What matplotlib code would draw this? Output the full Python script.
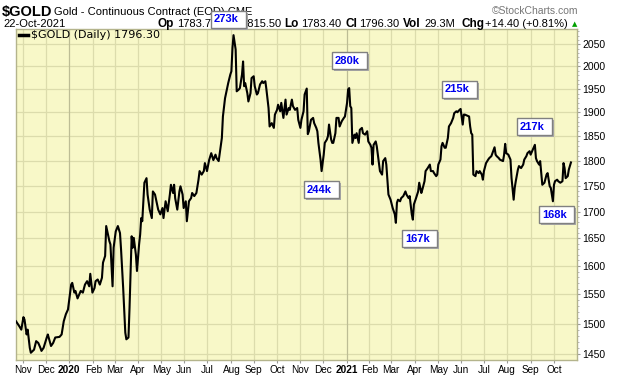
import numpy as np
import pandas as pd
import matplotlib
matplotlib.use("Agg")
import matplotlib.pyplot as plt
from matplotlib.patches import Rectangle
from matplotlib.lines import Line2D
from matplotlib.ticker import FixedLocator, FuncFormatter, NullFormatter

plt.rcParams['font.family'] = ['Liberation Sans', 'DejaVu Sans']

# trading session number (0 = 23-Oct-2019) and the close
session = [0, 3, 5, 7, 8, 10, 11, 13, 14, 17, 19, 21, 23, 24, 26, 29, 30, 33, 35, 37,
           41, 43, 45, 47, 49, 52, 53, 55, 56, 58, 61, 63, 65, 67, 69, 70, 72, 74, 75, 77,
           79, 81, 82, 84, 85, 88, 89, 91, 92, 94, 96, 98, 99, 101, 102, 103, 104, 106, 107, 109,
           110, 111, 113, 114, 116, 117, 118, 119, 121, 123, 124, 126, 128, 129, 131, 133, 134, 136, 138, 139,
           141, 143, 145, 146, 148, 149, 150, 152, 154, 155, 157, 158, 160, 161, 163, 165, 166, 168, 170, 172,
           173, 175, 177, 178, 180, 182, 184, 186, 188, 189, 191, 192, 194, 195, 197, 199, 200, 202, 203, 204,
           205, 207, 208, 210, 211, 213, 214, 215, 216, 218, 219, 221, 222, 224, 225, 227, 228, 230, 232, 233,
           235, 236, 238, 239, 241, 243, 244, 246, 247, 249, 250, 252, 254, 255, 257, 258, 260, 261, 263, 265,
           266, 268, 269, 271, 272, 274, 275, 276, 278, 280, 281, 283, 284, 285, 287, 288, 290, 291, 293, 294,
           295, 297, 298, 299, 301, 302, 304, 305, 307, 309, 310, 312, 313, 314, 315, 316, 317, 319, 320, 321,
           323, 324, 326, 327, 329, 331, 332, 334, 335, 336, 337, 339, 340, 341, 343, 345, 346, 348, 349, 351,
           353, 355, 357, 358, 359, 360, 362, 363, 365, 367, 368, 370, 371, 373, 374, 375, 377, 379, 380, 382,
           383, 385, 386, 388, 390, 391, 393, 394, 396, 397, 398, 400, 401, 402, 404, 405, 407, 408, 410, 412,
           413, 415, 416, 418, 419, 421, 422, 423, 425, 427, 428, 429, 430, 431, 433, 434, 436, 437, 439, 440,
           441, 443, 445, 446, 448, 449, 451, 452, 453, 455, 456, 459, 460, 461, 462, 464, 466, 467, 469, 470,
           471, 473, 474, 476, 478, 479, 481, 482, 484, 485, 487, 489, 490, 491, 493, 494, 495, 496, 498, 500,
           501, 503, 504, 506, 507, 508, 510, 511, 513, 515, 516, 517, 518, 520, 521, 523]
close = [1504, 1496, 1490, 1511, 1507, 1482, 1490, 1460, 1452, 1457, 1471, 1468, 1460, 1455, 1460, 1477, 1482, 1463, 1468, 1477,
         1478, 1482, 1504, 1516, 1524, 1567, 1570, 1553, 1556, 1543, 1556, 1553, 1567, 1573, 1564, 1586, 1553, 1561, 1573, 1576,
         1567, 1579, 1606, 1618, 1673, 1645, 1639, 1564, 1633, 1663, 1673, 1660, 1630, 1561, 1521, 1485, 1474, 1477, 1527, 1654,
         1633, 1651, 1620, 1591, 1639, 1657, 1688, 1682, 1756, 1765, 1733, 1704, 1688, 1739, 1733, 1714, 1704, 1695, 1707, 1688,
         1720, 1701, 1733, 1752, 1736, 1752, 1726, 1704, 1739, 1749, 1733, 1707, 1720, 1682, 1720, 1726, 1736, 1730, 1736, 1762,
         1779, 1772, 1779, 1795, 1779, 1801, 1815, 1801, 1812, 1805, 1799, 1815, 1846, 1891, 1930, 1952, 1963, 1982, 1989, 2041,
         2071, 2038, 1945, 1949, 1952, 1982, 2011, 1956, 1963, 1941, 1923, 1941, 1974, 1978, 1956, 1938, 1941, 1960, 1967, 1963,
         1967, 1949, 1909, 1870, 1877, 1867, 1895, 1905, 1916, 1902, 1920, 1888, 1927, 1895, 1909, 1905, 1927, 1913, 1905, 1909,
         1884, 1867, 1884, 1902, 1938, 1951, 1854, 1860, 1884, 1888, 1877, 1867, 1860, 1836, 1802, 1779, 1812, 1836, 1843, 1850,
         1874, 1843, 1836, 1836, 1856, 1888, 1888, 1870, 1881, 1888, 1891, 1920, 1949, 1952, 1913, 1909, 1836, 1853, 1846, 1856,
         1836, 1863, 1867, 1856, 1853, 1860, 1839, 1832, 1826, 1792, 1832, 1839, 1829, 1812, 1779, 1772, 1799, 1805, 1792, 1733,
         1723, 1707, 1695, 1679, 1717, 1723, 1720, 1726, 1730, 1739, 1733, 1726, 1730, 1695, 1685, 1714, 1726, 1739, 1756, 1736,
         1743, 1759, 1779, 1785, 1792, 1779, 1779, 1775, 1769, 1772, 1792, 1802, 1829, 1836, 1826, 1826, 1846, 1870, 1877, 1888,
         1898, 1902, 1900, 1905, 1907, 1874, 1895, 1895, 1893, 1891, 1870, 1856, 1853, 1772, 1769, 1779, 1775, 1779, 1772, 1762,
         1779, 1795, 1802, 1805, 1809, 1815, 1827, 1812, 1809, 1805, 1802, 1799, 1812, 1834, 1815, 1812, 1802, 1765, 1723, 1746,
         1759, 1782, 1789, 1785, 1792, 1802, 1809, 1815, 1819, 1812, 1822, 1832, 1805, 1799, 1792, 1799, 1775, 1752, 1756, 1772,
         1775, 1749, 1746, 1720, 1752, 1759, 1762, 1759, 1756, 1759, 1795, 1785, 1765, 1769, 1782, 1796.3]

price_ticks = [1450, 1500, 1550, 1600, 1650, 1700, 1750, 1800, 1850, 1900, 1950, 2000, 2050]
vol_labels = ['273k', '280k', '244k', '167k', '215k', '217k', '168k']
# top-left corner of each volume box, in pixels of the 620x376 image
vol_boxes = [(211, 11), (332, 52), (304, 181), (402, 230), (442, 81), (517, 118), (539, 206)]

W, H = 620, 376
BG = '#F8F8C8'
GRID = '#DCDCAC'
YEAR_GRID = '#BDBD95'
EDGE = '#B4B48C'


def fx(x):
    return x / W


def fy(y):
    return 1 - y / H


fig = plt.figure(figsize=(6.2, 3.76), dpi=100)
fig.patch.set_facecolor('white')

ax = fig.add_axes([fx(16), fy(360), (577 - 16) / W, (360 - 29) / H])
ax.set_facecolor(BG)

# trading calendar for month ticks
days = pd.bdate_range('2019-10-23', '2021-10-22')
pos = pd.Series(np.arange(len(days)), index=days)
firsts = pos.groupby(days.to_period('M')).first().iloc[1:]
month_pos = firsts.values
month_lbl = [str(p.year) if p.month == 1 else p.strftime('%b') for p in firsts.index]

for p, lbl in zip(month_pos, month_lbl):
    ax.axvline(p, color=YEAR_GRID if lbl.isdigit() else GRID, lw=0.9, zorder=1)

ax.plot(session, close, color='black', lw=1.5, zorder=3)

ax.set_yscale('log')
ax.set_ylim(1440.3, 2085.3)
ax.set_xlim(0, 528.7)
ax.yaxis.set_major_locator(FixedLocator(price_ticks))
ax.yaxis.set_major_formatter(FuncFormatter(lambda v, p: f'{v:.0f}'))
ax.yaxis.set_minor_locator(FixedLocator(list(range(1440, 2090, 10))))
ax.yaxis.set_minor_formatter(NullFormatter())
ax.yaxis.tick_right()
ax.grid(axis='y', which='major', color=GRID, lw=0.9, zorder=1)
ax.set_axisbelow(True)

ax.set_xticks(month_pos)
ax.set_xticklabels(month_lbl)
for t in ax.get_xticklabels():
    if t.get_text().isdigit():
        t.set_fontweight('bold')
        t.set_fontsize(8)

ax.tick_params(axis='x', length=2, pad=1.5, labelsize=7.2, color='#999999')
ax.tick_params(axis='y', which='major', length=2.5, pad=1.5, labelsize=7.5, color='#999999')
ax.tick_params(axis='y', which='minor', length=1.5, color='#AAAAAA', width=0.6)

for s in ax.spines.values():
    s.set_color(EDGE)
    s.set_linewidth(1)

# legend line inside the plot
fig.add_artist(Line2D([fx(19), fx(28)], [fy(35), fy(35)], color='black', lw=2.5))
fig.text(fx(31), fy(35), '$GOLD (Daily) 1796.30', family='DejaVu Sans', fontsize=8,
         va='center', ha='left')

# header
fig.text(fx(2), fy(16), '$GOLD', fontsize=10.5, fontweight='bold', va='baseline')
fig.text(fx(54), fy(15), 'Gold - Continuous Contract (EOD) CME', fontsize=8, va='baseline')
fig.text(fx(578), fy(14), '\u00a9StockCharts.com', fontsize=7.5, color='#777777',
         ha='right', va='baseline')

row = 27
fig.text(fx(3), fy(row), '22-Oct-2021', fontsize=8, va='baseline')
header = [(158, 'Op', True), (177, '1783.70', False), (223, 'Hi', True),
          (241, '1815.50', False), (284, 'Lo', True), (301, '1783.40', False),
          (346, 'Cl', True), (359, '1796.30', False), (403, 'Vol', True),
          (424, '29.3M', False), (461, 'Chg', True), (485, '+14.40 (+0.81%)', False)]
for x, txt, bold in header:
    fig.text(fx(x), fy(row), txt, fontsize=8.5 if bold else 8,
             fontweight='bold' if bold else 'normal', va='baseline')
fig.text(fx(572), fy(row - 1), '\u25b2', family='DejaVu Sans', fontsize=5, color='#00A000',
         va='baseline')

# volume boxes
bw, bh = 35, 17
for (x, y), lbl in zip(vol_boxes, vol_labels):
    fig.add_artist(Rectangle((fx(x + 2), fy(y + bh + 2)), bw / W, bh / H,
                             transform=fig.transFigure, facecolor='#A8A8A8',
                             edgecolor='none', zorder=5))
    fig.add_artist(Rectangle((fx(x), fy(y + bh)), bw / W, bh / H,
                             transform=fig.transFigure, facecolor='white',
                             edgecolor='#808080', lw=1, zorder=6))
    fig.text(fx(x + 3), fy(y + bh / 2), lbl, fontsize=8, fontweight='bold',
             color='#0000EE', va='center', ha='left', zorder=7)

fig.savefig('out.png', dpi=100)
